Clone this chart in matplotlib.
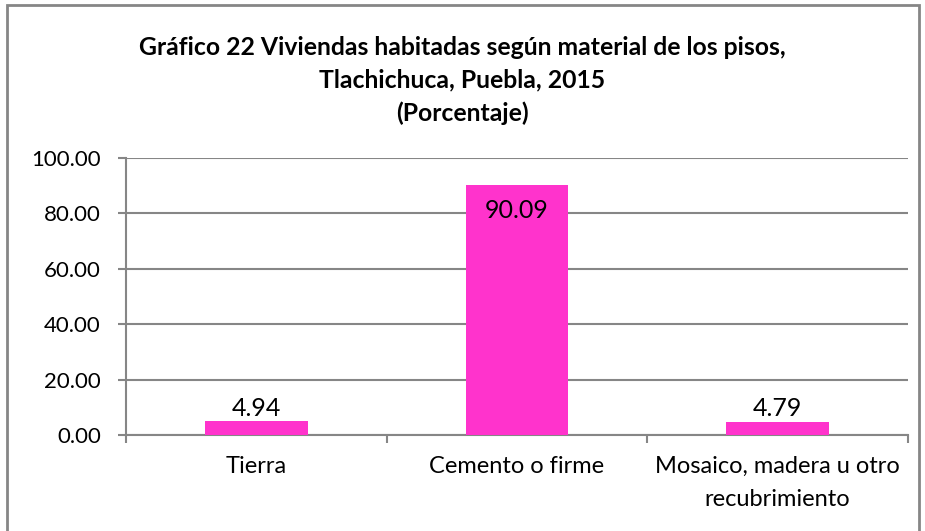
import matplotlib.pyplot as plt
from matplotlib.patches import Rectangle
import numpy as np

plt.rcParams['font.family'] = ['Lato', 'DejaVu Sans']

categorias = ['Tierra', 'Cemento o firme', 'Mosaico, madera u otro\nrecubrimiento']
porcentajes = [4.94, 90.09, 4.79]
etiquetas = ['4.94', '90.09', '4.79']
yticks = [0, 20, 40, 60, 80, 100]

fig = plt.figure(figsize=(9.25, 5.31), dpi=100)
ax = fig.add_axes([0.1362, 0.1808, 0.8454, 0.5216])

x = np.arange(len(categorias))
barras = ax.bar(x, porcentajes, width=0.395, color='#FF33CC', zorder=3)

ax.set_xlim(-0.5, len(categorias) - 0.5)
ax.set_ylim(0, 100)
ax.set_yticks(yticks)
ax.set_yticklabels(['%.2f' % v for v in yticks], fontsize=16)
ax.set_xticks(x)
ax.set_xticklabels(categorias, fontsize=17, linespacing=1.7)
ax.set_xticks(np.arange(len(categorias) + 1) - 0.5, minor=True)
ax.tick_params(axis='x', which='major', length=0, pad=15)
ax.tick_params(axis='x', which='minor', length=6, width=1.5, color='#868686')
ax.tick_params(axis='y', length=6, width=1.5, color='#868686', pad=12)

ax.grid(axis='y', color='#868686', linewidth=1.5, zorder=0)
for lado in ['top', 'right']:
    ax.spines[lado].set_visible(False)
for lado in ['left', 'bottom']:
    ax.spines[lado].set_color('#868686')
    ax.spines[lado].set_linewidth(1.5)

for b, v, t in zip(barras, porcentajes, etiquetas):
    if v > 50:
        ax.text(b.get_x() + b.get_width() / 2, v - 5, t, ha='center', va='top', fontsize=18)
    else:
        ax.text(b.get_x() + b.get_width() / 2, v + 0.6, t, ha='center', va='bottom', fontsize=18)

fig.text(0.5, 0.849, 'Gráfico 22 Viviendas habitadas según material de los pisos,\n'
         'Tlachichuca, Puebla, 2015\n(Porcentaje)',
         ha='center', va='center', fontsize=17.8, fontweight='bold', linespacing=1.5)

fig.patches.append(Rectangle((0.008, -0.05), 0.986, 1.04, transform=fig.transFigure,
                             fill=False, edgecolor='#868686', linewidth=2))

fig.savefig('out.png', dpi=100)
